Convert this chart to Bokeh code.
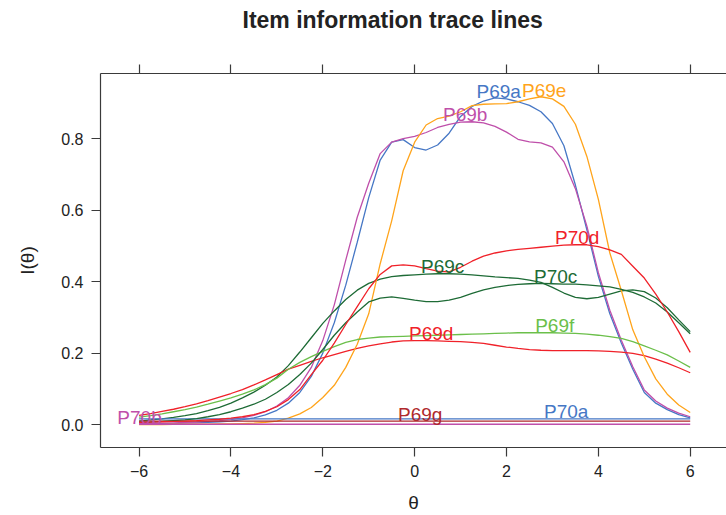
import numpy as np
from bokeh.plotting import figure
from bokeh.models import Range1d, LinearAxis, FixedTicker, Title
from bokeh.embed import file_html
from bokeh.resources import INLINE
from bokeh.core.properties import value

# Ability grid (theta) on which item information was evaluated
theta = [
    -6.00, -5.75, -5.50, -5.25, -5.00, -4.75, -4.50,
    -4.25, -4.00, -3.75, -3.50, -3.25, -3.00, -2.75,
    -2.50, -2.25, -2.00, -1.75, -1.50, -1.25, -1.00,
    -0.75, -0.50, -0.25, 0.00, 0.25, 0.50, 0.75,
    1.00, 1.25, 1.50, 1.75, 2.00, 2.25, 2.50,
    2.75, 3.00, 3.25, 3.50, 3.75, 4.00, 4.25,
    4.50, 4.75, 5.00, 5.25, 5.50, 5.75, 6.00,
]

P69a = [
    0.002, 0.002, 0.003, 0.003, 0.004, 0.005, 0.006,
    0.008, 0.010, 0.014, 0.019, 0.027, 0.040, 0.060,
    0.090, 0.135, 0.200, 0.285, 0.390, 0.510, 0.635,
    0.740, 0.790, 0.797, 0.775, 0.768, 0.782, 0.815,
    0.862, 0.890, 0.905, 0.914, 0.911, 0.903, 0.893,
    0.875, 0.842, 0.780, 0.670, 0.545, 0.415, 0.310,
    0.228, 0.155, 0.090, 0.060, 0.042, 0.028, 0.019,
]
P69b = [
    0.003, 0.003, 0.004, 0.005, 0.006, 0.007, 0.009,
    0.011, 0.014, 0.019, 0.026, 0.036, 0.052, 0.075,
    0.110, 0.160, 0.235, 0.335, 0.460, 0.580, 0.675,
    0.758, 0.790, 0.800, 0.806, 0.817, 0.831, 0.840,
    0.846, 0.847, 0.844, 0.834, 0.818, 0.798, 0.791,
    0.788, 0.776, 0.735, 0.660, 0.555, 0.425, 0.320,
    0.236, 0.162, 0.097, 0.066, 0.046, 0.032, 0.022,
]
P69c = [
    0.010, 0.013, 0.016, 0.020, 0.025, 0.031, 0.039,
    0.048, 0.060, 0.075, 0.091, 0.110, 0.133, 0.165,
    0.203, 0.243, 0.283, 0.318, 0.350, 0.376, 0.395,
    0.407, 0.414, 0.417, 0.419, 0.421, 0.422, 0.422,
    0.421, 0.419, 0.416, 0.413, 0.411, 0.409, 0.404,
    0.398, 0.384, 0.368, 0.356, 0.352, 0.356, 0.365,
    0.374, 0.377, 0.372, 0.354, 0.327, 0.293, 0.260,
]
P69d = [
    0.026, 0.031, 0.037, 0.043, 0.050, 0.058, 0.067,
    0.077, 0.087, 0.098, 0.111, 0.125, 0.140, 0.155,
    0.166, 0.177, 0.187, 0.196, 0.205, 0.213, 0.220,
    0.226, 0.231, 0.234, 0.235, 0.235, 0.234, 0.233,
    0.232, 0.230, 0.227, 0.222, 0.217, 0.213, 0.210,
    0.208, 0.207, 0.207, 0.207, 0.207, 0.206, 0.205,
    0.203, 0.199, 0.193, 0.183, 0.172, 0.159, 0.145,
]
P69e = [
    0.000, 0.000, 0.000, 0.001, 0.001, 0.001, 0.001,
    0.002, 0.002, 0.003, 0.004, 0.006, 0.010, 0.018,
    0.030, 0.048, 0.076, 0.110, 0.160, 0.225, 0.310,
    0.450, 0.570, 0.710, 0.790, 0.838, 0.856, 0.863,
    0.875, 0.892, 0.896, 0.897, 0.898, 0.903, 0.911,
    0.917, 0.911, 0.890, 0.840, 0.750, 0.630, 0.480,
    0.375, 0.265, 0.190, 0.128, 0.085, 0.055, 0.034,
]
P69f = [
    0.021, 0.025, 0.030, 0.036, 0.042, 0.049, 0.057,
    0.066, 0.075, 0.085, 0.097, 0.112, 0.130, 0.155,
    0.174, 0.190, 0.205, 0.218, 0.230, 0.238, 0.242,
    0.245, 0.246, 0.247, 0.248, 0.249, 0.250, 0.251,
    0.252, 0.253, 0.254, 0.255, 0.256, 0.257, 0.257,
    0.257, 0.257, 0.256, 0.255, 0.253, 0.250, 0.246,
    0.241, 0.232, 0.220, 0.208, 0.195, 0.178, 0.160,
]
P69g = [0.010] * len(theta)
P70a = [0.016] * len(theta)
P70b = [0.001] * len(theta)
P70c = [
    0.006, 0.007, 0.009, 0.011, 0.013, 0.017, 0.022,
    0.028, 0.036, 0.046, 0.057, 0.071, 0.090, 0.112,
    0.140, 0.172, 0.210, 0.250, 0.285, 0.315, 0.343,
    0.354, 0.357, 0.353, 0.348, 0.344, 0.344, 0.348,
    0.356, 0.367, 0.377, 0.384, 0.389, 0.392, 0.394,
    0.395, 0.394, 0.393, 0.393, 0.391, 0.388, 0.385,
    0.378, 0.370, 0.357, 0.340, 0.315, 0.285, 0.254,
]
P70d = [
    0.006, 0.007, 0.008, 0.009, 0.010, 0.011, 0.013,
    0.015, 0.018, 0.022, 0.028, 0.037, 0.050, 0.070,
    0.098, 0.140, 0.180, 0.228, 0.280, 0.330, 0.380,
    0.420, 0.444, 0.447, 0.444, 0.436, 0.429, 0.427,
    0.440, 0.457, 0.471, 0.480, 0.486, 0.490, 0.493,
    0.496, 0.499, 0.502, 0.503, 0.503, 0.498, 0.489,
    0.476, 0.443, 0.410, 0.365, 0.315, 0.260, 0.202,
]

items = ["P69a", "P69b", "P69c", "P69d", "P69e", "P69f", "P69g",
         "P70a", "P70b", "P70c", "P70d"]
info = [P69a, P69b, P69c, P69d, P69e, P69f, P69g, P70a, P70b, P70c, P70d]

# theta at which each item's name is written
label_theta = [1.83, 1.10, 0.61, 0.36, 2.82, 3.05, 0.12, 3.30, -5.99, 3.07, 3.54]

palette = ["#4677C5", "#BF4FAA", "#1E6B36", "#F02129", "#FFA41B", "#6BBF4A", "#B0292C"]
colors = [palette[i % len(palette)] for i in range(len(items))]

x_ticks = [-6, -4, -2, 0, 2, 4, 6]
x_tick_labels = ["\u22126", "\u22124", "\u22122", "0", "2", "4", "6"]
y_ticks = [0.0, 0.2, 0.4, 0.6, 0.8]
y_tick_labels = ["0.0", "0.2", "0.4", "0.6", "0.8"]

FONT = "Liberation Sans"
INK = "#222222"
FRAME = "#3a3a3a"

p = figure(width=726, height=515, output_backend="svg", toolbar_location=None,
           x_range=Range1d(-6.84, 6.79), y_range=Range1d(-0.064, 0.982),
           min_border_left=100, min_border_right=0,
           min_border_top=73, min_border_bottom=68)
p.outline_line_color = None
p.xgrid.visible = False
p.ygrid.visible = False
p.background_fill_color = "white"
p.border_fill_color = "white"


def style_axis(ax, ticks, labels):
    ax.ticker = FixedTicker(ticks=ticks)
    ax.major_label_overrides = {t: s for t, s in zip(ticks, labels)}
    ax.major_tick_in = 0
    ax.major_tick_out = 9
    ax.minor_tick_line_color = None
    ax.axis_line_color = FRAME
    ax.axis_line_width = 1.2
    ax.major_tick_line_color = FRAME
    ax.major_tick_line_width = 1.2
    ax.major_label_text_font = FONT
    ax.major_label_text_font_size = "16px"
    ax.major_label_text_color = INK
    ax.major_label_standoff = 8
    ax.axis_label_text_font = FONT
    ax.axis_label_text_font_size = "19px"
    ax.axis_label_text_font_style = "normal"
    ax.axis_label_text_color = INK


style_axis(p.xaxis[0], x_ticks, x_tick_labels)
style_axis(p.yaxis[0], y_ticks, y_tick_labels)
p.xaxis.axis_label = "\u03b8"
p.xaxis.axis_label_standoff = 12
p.yaxis.axis_label = "I(\u03b8)"
p.yaxis.axis_label_standoff = 20

# upper frame edge with tick marks only
top = LinearAxis()
style_axis(top, x_ticks, ["" for _ in x_ticks])
top.major_label_text_font_size = "0px"
top.major_label_standoff = 0
p.add_layout(top, "above")

# blank band between the upper frame edge and the heading
gap = LinearAxis()
style_axis(gap, x_ticks, ["" for _ in x_ticks])
gap.major_label_text_font_size = "0px"
gap.major_label_standoff = 0
gap.major_tick_out = 32
gap.major_tick_line_color = None
gap.axis_line_color = None
p.add_layout(gap, "above")

p.title = Title(text="Item information trace lines", align="left", offset=142,
                vertical_align="bottom", text_font=FONT, text_font_size="23px",
                text_font_style="bold", text_color=INK, standoff=0)

for name, ys, col in zip(items, info, colors):
    p.line(theta, ys, line_color=col, line_width=1.3)

# item names sit just above their trace, centred on the chosen theta
label_y = [float(np.interp(t, theta, ys)) for t, ys in zip(label_theta, info)]
p.text(x=label_theta, y=label_y, text=items, text_color=colors,
       text_font=value(FONT), text_font_size="19px",
       text_align="center", text_baseline="middle", y_offset=-7)

open("out.html", "w").write(file_html(p, INLINE))
